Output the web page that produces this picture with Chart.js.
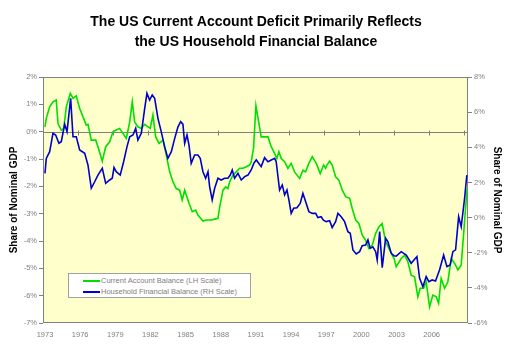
<!DOCTYPE html>
<html>
<head>
<meta charset="utf-8">
<script src="https://cdn.jsdelivr.net/npm/chart.js@4.4.1/dist/chart.umd.min.js"></script>
<style>
  html, body { margin: 0; padding: 0; background: #fff; }
  #wrap { position: relative; width: 512px; height: 350px; }
  #legend {
    position: absolute; left: 68px; top: 273px; width: 181px; height: 23px;
    background: #fff; border: 1px solid #a0a0a0;
    font-family: "Liberation Sans", Arial, sans-serif; font-size: 7.5px; color: #808080;
  }
  #legend .row { position: absolute; left: 14px; height: 10px; line-height: 10px; white-space: nowrap; }
  #legend .swatch { display: inline-block; width: 17px; height: 2px; vertical-align: middle; margin-right: 1px; }
</style>
</head>
<body>
<div id="wrap">
  <canvas id="line-chart" width="512" height="350"></canvas>
  <div id="legend">
    <div class="row" style="top:2px"><span class="swatch" style="background:#00e000"></span>Current Account Balance (LH Scale)</div>
    <div class="row" style="top:13px"><span class="swatch" style="background:#0000cc"></span>Household Financial Balance (RH Scale)</div>
  </div>
</div>
<script>
// Current account balance, % of GDP (left scale)
const caYears = [1973.0, 1973.11, 1973.40, 1973.68, 1973.96, 1974.11, 1974.39, 1974.60, 1974.82, 1975.16,
  1975.39, 1975.67, 1975.96, 1976.24, 1976.52, 1976.67, 1976.95, 1977.33, 1977.52, 1977.89,
  1978.18, 1978.52, 1978.80, 1979.08, 1979.37, 1979.65, 1979.94, 1980.23, 1980.45, 1980.65,
  1980.93, 1981.22, 1981.51, 1981.79, 1981.98, 1982.21, 1982.45, 1982.73, 1983.07, 1983.35,
  1983.64, 1983.92, 1984.20, 1984.49, 1984.71, 1984.92, 1985.29, 1985.57, 1985.86, 1986.05,
  1986.48, 1986.76, 1987.19, 1987.48, 1987.76, 1987.91, 1988.19, 1988.42, 1988.61, 1988.76,
  1989.04, 1989.32, 1989.61, 1989.89, 1990.18, 1990.46, 1990.60, 1990.80, 1991.00, 1991.45,
  1992.03, 1992.31, 1992.60, 1992.79, 1992.96, 1993.16, 1993.45, 1993.73, 1994.01, 1994.30,
  1994.73, 1995.01, 1995.24, 1995.52, 1995.81, 1996.15, 1996.49, 1996.78, 1996.95, 1997.06,
  1997.29, 1997.51, 1997.80, 1998.08, 1998.37, 1998.66, 1999.00, 1999.22, 1999.51, 1999.79,
  2000.07, 2000.36, 2000.64, 2000.93, 2001.22, 2001.50, 2001.78, 2002.07, 2002.35, 2002.63,
  2002.80, 2002.97, 2003.40, 2003.69, 2003.97, 2004.25, 2004.54, 2004.82, 2005.02, 2005.31,
  2005.53, 2005.82, 2006.10, 2006.39, 2006.59, 2006.81, 2007.10, 2007.38, 2007.67, 2007.96,
  2008.24, 2008.52, 2008.72, 2008.89, 2009.03];
const caValues = [0.18, 0.49, 0.91, 1.09, 1.16, 0.30, 0.06, 0.12, 0.91, 1.40,
  1.22, 1.31, 0.85, 0.55, 0.24, 0.27, -0.31, -0.31, -0.55, -1.08,
  -0.55, -0.37, 0.00, 0.06, 0.12, -0.06, -0.25, 0.36, 1.09, 0.36,
  0.18, 0.12, 0.27, 0.18, 0.12, 0.61, -0.19, -0.43, -0.31, -0.86,
  -1.47, -1.83, -2.08, -2.14, -2.50, -2.14, -2.62, -2.93, -2.87, -3.05,
  -3.27, -3.23, -3.23, -3.20, -3.17, -2.75, -2.14, -2.02, -2.08, -1.83,
  -1.59, -1.47, -1.34, -1.34, -1.28, -1.22, -1.10, -0.60, 0.95, -0.19,
  -0.19, -0.55, -0.80, -0.98, -0.73, -0.98, -1.10, -1.34, -1.16, -1.47,
  -1.71, -1.41, -1.47, -1.16, -0.91, -1.16, -1.53, -1.22, -1.34, -1.22,
  -1.08, -1.22, -1.65, -1.77, -2.14, -2.38, -2.44, -2.81, -3.23, -3.36,
  -3.78, -3.97, -4.27, -4.15, -3.72, -3.48, -3.36, -4.03, -4.27, -4.52,
  -4.65, -4.94, -4.64, -4.52, -4.76, -5.25, -5.31, -6.04, -5.73, -5.73,
  -5.49, -6.41, -5.98, -6.04, -6.28, -5.37, -5.73, -5.49, -4.64, -4.82,
  -5.06, -4.88, -3.78, -2.81, -2.08];

// Household financial balance, % of GDP (right scale)
const hhYears = [1973.0, 1973.11, 1973.40, 1973.68, 1973.91, 1974.19, 1974.39, 1974.68, 1974.88, 1975.19,
  1975.39, 1975.67, 1975.96, 1976.39, 1976.67, 1976.95, 1977.24, 1977.52, 1977.89, 1978.18,
  1978.52, 1978.74, 1978.89, 1979.08, 1979.42, 1979.71, 1980.00, 1980.23, 1980.51, 1980.74,
  1980.93, 1981.22, 1981.51, 1981.70, 1981.93, 1982.15, 1982.36, 1982.64, 1982.92, 1983.21,
  1983.49, 1983.78, 1984.07, 1984.35, 1984.58, 1984.77, 1984.92, 1985.12, 1985.29, 1985.48,
  1985.77, 1986.05, 1986.25, 1986.48, 1986.71, 1986.91, 1987.05, 1987.27, 1987.48, 1987.76,
  1988.04, 1988.33, 1988.61, 1988.81, 1988.98, 1989.18, 1989.47, 1989.75, 1990.04, 1990.32,
  1990.60, 1990.83, 1991.03, 1991.45, 1991.74, 1992.03, 1992.31, 1992.60, 1992.73, 1993.02,
  1993.25, 1993.45, 1993.65, 1993.82, 1994.01, 1994.22, 1994.50, 1994.78, 1995.01, 1995.24,
  1995.52, 1995.81, 1996.10, 1996.29, 1996.57, 1996.76, 1997.00, 1997.29, 1997.51, 1997.80,
  1998.00, 1998.28, 1998.57, 1998.85, 1999.05, 1999.28, 1999.56, 1999.85, 2000.07, 2000.36,
  2000.56, 2000.75, 2000.98, 2001.22, 2001.35, 2001.56, 2001.78, 2002.07, 2002.26, 2002.55,
  2002.78, 2002.97, 2003.40, 2003.83, 2004.25, 2004.74, 2004.97, 2005.25, 2005.53, 2005.76,
  2006.04, 2006.33, 2006.67, 2007.02, 2007.30, 2007.58, 2007.81, 2008.04, 2008.30, 2008.52,
  2008.81, 2009.00];
const hhValues = [2.52, 3.37, 3.75, 4.80, 4.70, 4.23, 4.32, 5.31, 4.89, 6.79,
  4.60, 4.60, 3.85, 3.66, 2.99, 1.67, 2.04, 2.42, 2.80, 1.95,
  2.14, 2.24, 2.85, 2.61, 2.42, 3.18, 4.04, 4.60, 4.70, 5.08,
  4.42, 4.80, 6.22, 7.07, 6.69, 6.98, 6.79, 5.65, 4.89, 4.04,
  3.37, 3.75, 4.51, 5.17, 5.46, 5.32, 4.23, 4.70, 4.13, 3.09,
  3.56, 3.56, 3.37, 2.61, 2.24, 2.61, 1.76, 1.00, 1.67, 2.24,
  2.14, 2.24, 2.24, 2.42, 2.71, 2.24, 2.52, 2.14, 2.33, 2.42,
  2.71, 3.10, 3.28, 2.90, 3.41, 3.18, 3.28, 3.37, 3.18, 1.57,
  1.86, 1.29, 1.57, 1.00, 0.24, 0.53, 0.56, 0.81, 1.38, 0.91,
  0.34, 0.24, 0.24, 0.00, 0.05, -0.15, -0.23, -0.18, -0.57, -0.23,
  0.24, 0.05, -0.23, -0.80, -0.89, -1.84, -2.07, -1.94, -1.60, -1.56,
  -1.27, -1.75, -1.66, -1.94, -2.41, -0.80, -2.85, -1.18, -1.37, -2.03,
  -2.17, -2.19, -1.94, -2.13, -2.60, -2.22, -3.46, -3.93, -3.36, -3.65,
  -3.55, -3.61, -2.98, -2.13, -2.79, -2.70, -1.94, -1.84, 0.05, -0.52,
  1.10, 2.42];

const xTickYears = [1973, 1976, 1979, 1982, 1985, 1988, 1991, 1994, 1997, 2000, 2003, 2006];
const zeroLineTickYears = [1975.8, 1978.8, 1981.8, 1984.8, 1987.8, 1990.8, 1993.8, 1996.8, 1999.8, 2002.8, 2005.8, 2008.8];

const FONT = "'Liberation Sans', Arial, sans-serif";
const GREY = '#808080';

// yellow plot area with grey frame, plus the 0% line with its little ticks
const plotFrame = {
    id: 'plotFrame',
    beforeDatasetsDraw(chart) {
        const {ctx, chartArea: a, scales} = chart;
        ctx.save();
        ctx.fillStyle = '#ffffcc';
        ctx.fillRect(a.left, a.top, a.right - a.left, a.bottom - a.top);
        ctx.strokeStyle = GREY;
        ctx.lineWidth = 1;
        ctx.strokeRect(a.left + 0.5, a.top + 0.5, a.right - a.left - 1, a.bottom - a.top - 1);
        const y0 = Math.round(scales.y.getPixelForValue(0)) + 0.5;
        ctx.beginPath();
        ctx.moveTo(a.left, y0);
        ctx.lineTo(a.right, y0);
        zeroLineTickYears.forEach(yr => {
            const x = Math.round(scales.x.getPixelForValue(yr)) + 0.5;
            ctx.moveTo(x, y0 - 2);
            ctx.lineTo(x, y0 + 3);
        });
        ctx.stroke();
        ctx.restore();
    }
};

const ctx = document.getElementById('line-chart').getContext('2d');
new Chart(ctx, {
    type: 'line',
    data: {
        datasets: [{
            label: 'Current Account Balance (LH Scale)',
            data: caYears.map((yr, i) => ({x: yr, y: caValues[i]})),
            borderColor: '#00e000',
            borderWidth: 1.6,
            pointRadius: 0,
            tension: 0,
            yAxisID: 'y',
            order: 1
        }, {
            label: 'Household Financial Balance (RH Scale)',
            data: hhYears.map((yr, i) => ({x: yr, y: hhValues[i]})),
            borderColor: '#0000cc',
            borderWidth: 1.6,
            pointRadius: 0,
            tension: 0,
            yAxisID: 'y1',
            order: 0
        }]
    },
    options: {
        responsive: false,
        animation: false,
        layout: {padding: 0},
        plugins: {
            legend: {display: false},
            tooltip: {enabled: false},
            title: {
                display: true,
                text: ['The US Current Account Deficit Primarily Reflects', 'the US Household Financial Balance'],
                color: '#000',
                font: {family: FONT, size: 14, weight: 'bold', lineHeight: 1.43},
                padding: {top: 12.5, bottom: 24.5}
            }
        },
        scales: {
            x: {
                type: 'linear',
                min: 1972.83,
                max: 2009.1,
                afterBuildTicks: (axis) => { axis.ticks = xTickYears.map(v => ({value: v})); },
                afterFit: (axis) => { axis.height = 27; },
                grid: {display: false},
                border: {display: false},
                ticks: {
                    color: GREY,
                    padding: -1,
                    maxRotation: 0,
                    autoSkip: false,
                    font: {family: FONT, size: 7.5},
                    callback: (v) => String(v)
                }
            },
            y: {
                position: 'left',
                min: -7,
                max: 2,
                afterFit: (axis) => { axis.width = 43; },
                grid: {drawOnChartArea: false, tickLength: 4, color: GREY},
                border: {display: false},
                ticks: {
                    stepSize: 1,
                    color: GREY,
                    padding: 2,
                    font: {family: FONT, size: 7.5},
                    callback: (v) => v + '%'
                },
                title: {
                    display: true,
                    text: 'Share of Nominal GDP',
                    color: '#000',
                    font: {family: FONT, size: 10, weight: 'bold'},
                    padding: {top: 8, bottom: 0}
                }
            },
            y1: {
                position: 'right',
                min: -6,
                max: 8,
                afterFit: (axis) => { axis.width = 44; },
                grid: {drawOnChartArea: false, tickLength: 4, color: GREY},
                border: {display: false},
                ticks: {
                    stepSize: 2,
                    color: GREY,
                    padding: 2,
                    font: {family: FONT, size: 7.5},
                    callback: (v) => v + '%'
                },
                title: {
                    display: true,
                    text: 'Share of Nominal GDP',
                    color: '#000',
                    font: {family: FONT, size: 10, weight: 'bold'},
                    padding: {top: 9, bottom: 0}
                }
            }
        }
    },
    plugins: [plotFrame]
});
</script>
</body>
</html>
